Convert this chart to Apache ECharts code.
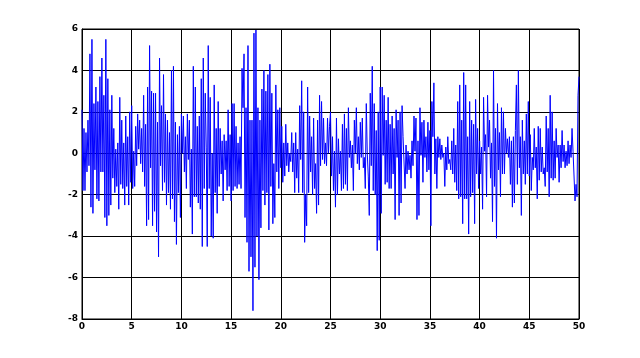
<!DOCTYPE html>
<html>
<head>
<meta charset="utf-8">
<script src="https://cdn.jsdelivr.net/npm/echarts@6/dist/echarts.min.js"></script>
<style>
html,body{margin:0;padding:0;background:#fff;}
#chart{width:640px;height:358px;}
</style>
</head>
<body>
<div id="chart"></div>
<script>
// Sample spacing of the signal (x units per sample)
const sampleStep = 0.1;

// Signal values, split by x range
const signal_00_06 = [2.1,-1.8,1.2,-1.8,1.0,-0.9,1.6,-0.6,4.8,-2.6,5.5,-2.9,2.4,-0.8,3.2,-2.2,2.5,-2.3,3.7,-0.9,4.6,-0.9,2.8,-3.1,5.5,-3.5,3.6,-3.0,2.1,-2.5,2.8,-1.2,1.2,-1.9,0.2,-1.6,0.5,-2.7,2.7,-1.5,1.6,-1.7,0.5,-2.5,1.8,-1.6,0.8,-2.5,2.0,-1.4,2.3,-1.7,0.1,-1.6,1.3,-0.6,1.9,0.2,1.6,-0.5,1.2,-0.9];
const signal_06_12 = [2.8,-1.6,1.4,-3.5,3.2,-3.2,5.2,-0.7,3.0,-3.5,2.9,-2.8,2.9,-3.8,1.5,-5.0,4.6,-0.6,2.3,-1.8,3.8,-1.4,1.9,-2.5,1.6,-1.9,1.0,-2.7,4.0,-2.2,4.2,-3.3,1.5,-4.4,0.9,-1.9,1.3,-3.1,1.9,0.0,1.8,-0.9,0.8,-1.7,1.9,-0.3,1.6,-2.6,0.2,-3.9,4.2,-2.1,3.2,-2.1,1.3,-2.4,1.8,-2.7,3.6,-4.5,4.6,-1.7,2.9];
const signal_12_18 = [0.3,-4.5,5.2,-1.7,2.7,-4.0,0.0,-4.1,3.3,-1.9,1.2,-2.9,2.5,-1.6,1.2,-1.0,0.6,-2.3,0.9,-0.8,0.6,-1.8,2.1,-1.6,0.9,-2.3,2.4,-1.8,2.4,-1.6,1.3,-1.7,0.5,-1.5,0.8,-1.7,4.1,2.2,4.8,-3.1,2.2,-4.3,5.2,-5.7,1.6,-5.0,1.6,-7.6,5.8,-5.5,5.95,-4.0,2.2,-6.1,1.6,-3.6,3.1,-1.8,4.0,-2.5,3.0,-1.9,3.8];
const signal_18_24 = [-3.7,4.3,-1.6,2.9,-3.4,-0.5,-3.1,3.3,-0.9,2.1,-1.7,2.2,-0.7,1.3,-1.4,0.5,-1.1,1.4,-0.6,0.5,-0.9,0.0,-0.4,1.0,-0.9,0.5,-1.9,1.0,-1.2,0.2,-1.9,2.3,-0.3,3.5,-1.9,2.0,-4.3,-2.0,-3.5,3.2,-1.9,1.8,-0.9,0.8,-2.0,1.7,-1.7,-0.5,-2.9,1.6,-2.5,2.8,-0.6,2.5,-0.3,1.7,-0.5,0.5,-0.6,1.7,0.0,1.3];
const signal_25_31 = [2.0,-1.1,0.8,-1.8,0.1,-2.6,1.7,-2.0,0.7,-1.0,0.1,-1.8,1.4,-1.7,1.9,-1.5,1.2,-1.8,2.2,-0.2,0.6,-0.7,0.4,-1.8,1.6,0.0,2.2,-0.5,0.8,-0.8,1.5,-0.2,1.7,-0.7,-0.2,-1.7,2.4,0.0,-1.1,-3.0,2.9,-0.6,4.2,-1.8,2.4,-2.0,1.1,-4.7,2.0,-4.2,3.2,-2.9,3.2,-0.1,2.8,-1.5,1.6,-1.4,2.7,-1.7,1.4,-1.7];
const signal_31_37 = [1.8,-1.0,1.2,-3.2,2.1,-0.2,1.6,-3.0,2.0,-2.4,2.3,0.8,0.8,-1.7,0.4,-1.0,0.1,-0.8,-0.1,-1.2,0.6,-0.6,1.8,0.1,1.7,-3.2,0.6,-3.0,2.2,-0.1,1.5,-1.4,1.6,-0.2,0.8,-0.9,1.5,-0.8,1.1,-3.5,2.5,0.8,3.4,-1.0,0.7,-1.7,0.8,-0.2,0.7,-0.3,0.4,-0.2,0.0,-1.6,0.3,-0.8,0.8,-0.5,-0.3,-0.8,0.6,-1.0];
const signal_37_43 = [1.2,-1.4,0.4,-1.8,2.5,-2.2,3.3,-2.1,1.6,-3.4,3.9,-2.2,3.3,-2.2,0.8,-3.9,2.5,-2.1,1.6,-1.9,1.4,-3.4,2.6,-1.0,1.2,-1.7,0.6,-1.0,0.3,-2.7,2.7,0.1,0.9,-2.1,2.8,0.3,1.6,-1.2,0.5,-3.3,4.0,-1.6,1.2,-4.1,2.4,-0.8,1.0,-2.1,2.2,-1.0,2.0,-1.0,1.2,0.0,0.7,-0.2,0.8,-1.5,0.6,-2.6,0.8,-2.4,1.1];
const signal_44_50 = [3.3,-1.5,4.0,-0.7,0.8,-3.0,1.6,-1.0,0.6,-1.5,1.9,-1.0,2.5,-1.1,0.9,-1.8,-0.2,-0.8,1.2,-0.7,0.3,-2.2,1.3,-1.3,1.2,-0.9,0.3,-1.0,-0.7,-1.6,1.8,-0.9,1.2,-2.1,2.8,-1.2,2.0,-1.3,0.6,-1.2,1.2,-0.2,0.4,-1.4,0.4,-0.7,1.1,-0.4,0.4,-0.7,0.1,-0.6,0.6,-0.5,0.4,-0.2,1.2,0.1,0.1,-2.3,-1.5,-2.1,2.8,3.7];

// Tick labels
const xTicks = [0,5,10,15,20,25,30,35,40,45,50];
const yTicks = [-8,-6,-4,-2,0,2,4,6];

const signal = [].concat(signal_00_06, signal_06_12, signal_12_18, signal_18_24,
                         signal_25_31, signal_31_37, signal_37_43, signal_44_50);
const seriesData = signal.map((v, i) => [+(i * sampleStep).toFixed(1), v]);

const chart = echarts.init(document.getElementById('chart'), null, {renderer: 'canvas'});
const labelStyle = {color: '#000', fontFamily: 'DejaVu Sans', fontWeight: 'bold', fontSize: 9};
chart.setOption({
  animation: false,
  backgroundColor: '#ffffff',
  grid: {left: 82, top: 29, width: 497, height: 290, show: true, borderColor: '#000', borderWidth: 1, backgroundColor: 'transparent'},
  xAxis: {
    type: 'value',
    min: xTicks[0], max: xTicks[xTicks.length - 1], interval: xTicks[1] - xTicks[0],
    axisLine: {show: true, onZero: false, lineStyle: {color: '#000', width: 1}},
    axisTick: {show: false},
    splitLine: {show: true, lineStyle: {color: '#000', width: 1}},
    axisLabel: Object.assign({margin: 3}, labelStyle)
  },
  yAxis: {
    type: 'value',
    min: yTicks[0], max: yTicks[yTicks.length - 1], interval: yTicks[1] - yTicks[0],
    axisLine: {show: true, onZero: false, lineStyle: {color: '#000', width: 1}},
    axisTick: {show: false},
    splitLine: {show: true, lineStyle: {color: '#000', width: 1}},
    axisLabel: Object.assign({margin: 4}, labelStyle)
  },
  series: [{
    type: 'line',
    data: seriesData,
    showSymbol: false,
    symbol: 'none',
    sampling: null,
    lineStyle: {color: '#0000ff', width: 1},
    emphasis: {disabled: true}
  }]
});
</script>
</body>
</html>
